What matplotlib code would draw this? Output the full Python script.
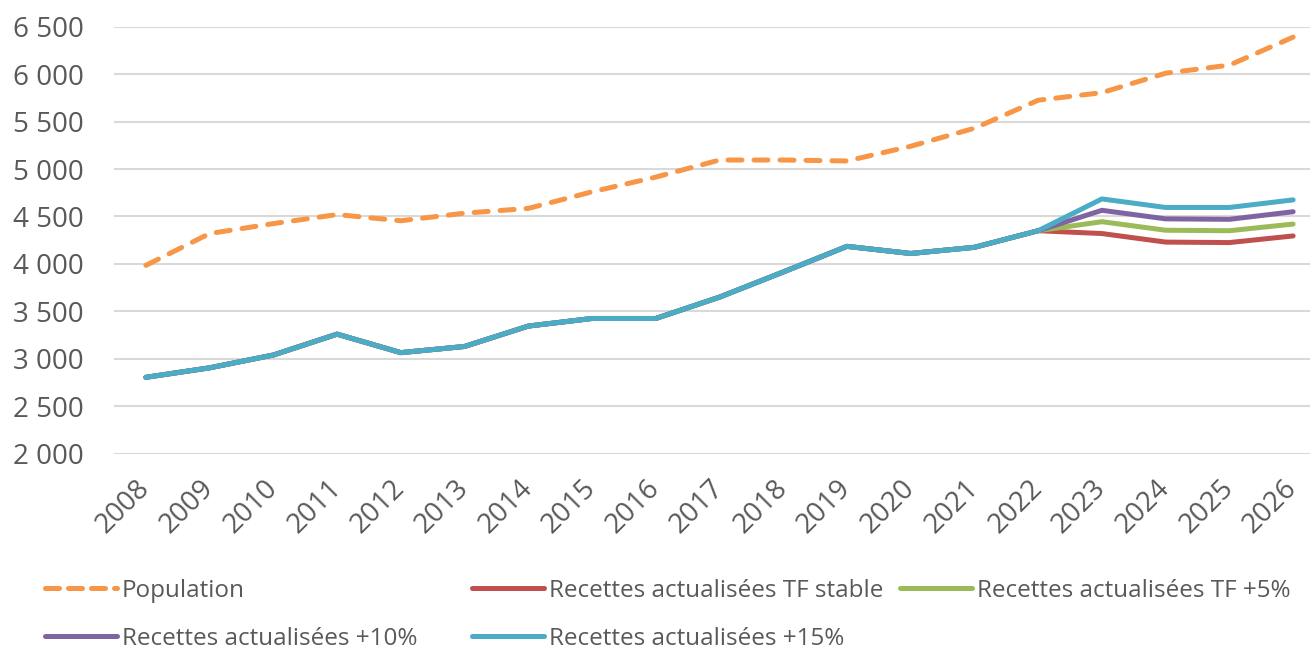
import matplotlib
matplotlib.use("Agg")
import matplotlib.pyplot as plt
from matplotlib.lines import Line2D
from matplotlib.ticker import FuncFormatter, MultipleLocator

years = [str(y) for y in range(2008, 2027)]

population = [3985, 4320, 4425, 4520, 4455, 4535, 4585, 4760, 4915,
              5095, 5095, 5085, 5240, 5430, 5725, 5805, 6010, 6095, 6390]

hist = [2805, 2905, 3040, 3260, 3065, 3130, 3345, 3425, 3425,
        3650, 3915, 4185, 4110, 4175, 4350]

tf_stable = hist + [4320, 4230, 4225, 4295]
tf_plus5 = hist + [4445, 4355, 4350, 4420]
plus10 = hist + [4565, 4475, 4470, 4550]
plus15 = hist + [4685, 4595, 4595, 4675]

labels = ["Population", "Recettes actualisées TF stable", "Recettes actualisées TF +5%",
          "Recettes actualisées +10%", "Recettes actualisées +15%"]
colors = ["#F79646", "#C0504D", "#9BBB59", "#8064A2", "#4BACC6"]

plt.rcParams['font.family'] = ['Open Sans', 'DejaVu Sans']
TXT = "#595959"

fig = plt.figure(figsize=(13.10, 6.50), dpi=100)
ax = fig.add_axes([114 / 1310, 1 - 453.7 / 650, (1325 - 114) / 1310, (453.7 - 26.7) / 650])

x = list(range(len(years)))
lw = 3.6
series = [tf_stable, tf_plus5, plus10, plus15]
handles = {}
for s, c, l in zip(series, colors[1:], labels[1:]):
    h, = ax.plot(x, s, color=c, lw=lw, solid_capstyle='round', solid_joinstyle='round', zorder=3)
    handles[l] = h
h, = ax.plot(x, population, color=colors[0], lw=lw, dashes=(2.8, 2.4),
             dash_capstyle='round', zorder=3)
handles[labels[0]] = h

ax.set_xlim(-0.5, len(years) - 0.5)
ax.set_ylim(2000, 6500)
ax.yaxis.set_major_locator(MultipleLocator(500))
ax.yaxis.set_major_formatter(FuncFormatter(lambda v, p: f"{v:,.0f}".replace(",", " ")))
ax.set_xticks(x)
ax.set_xticklabels(years, rotation=45, ha='right', va='center', rotation_mode='anchor')
ax.tick_params(axis='x', length=0, pad=22, labelsize=20, labelcolor=TXT)
ax.tick_params(axis='y', length=0, pad=22, labelsize=20, labelcolor=TXT)
ax.grid(axis='y', color="#D9D9D9", lw=1.5, zorder=0)
ax.set_axisbelow(True)
for sp in ax.spines.values():
    sp.set_visible(False)

positions = {
    labels[0]: (45, 591),
    labels[1]: (472, 591),
    labels[2]: (900, 591),
    labels[3]: (45, 639),
    labels[4]: (472, 639),
}
for l, (px, py) in positions.items():
    hh = handles[l]
    if l == labels[0]:
        proxy = Line2D([], [], color=hh.get_color(), lw=lw, dashes=(2.8, 1.8), dash_capstyle='round')
    else:
        proxy = Line2D([], [], color=hh.get_color(), lw=lw, solid_capstyle='round')
    fig.legend(handles=[proxy], labels=[l], loc='center left',
               bbox_to_anchor=(px / 1310, 1 - py / 650), frameon=False,
               borderpad=0, borderaxespad=0, handlelength=2.95, handletextpad=0.2,
               prop={'size': 17.5}, labelcolor=TXT)

fig.savefig("out.png", dpi=100)
